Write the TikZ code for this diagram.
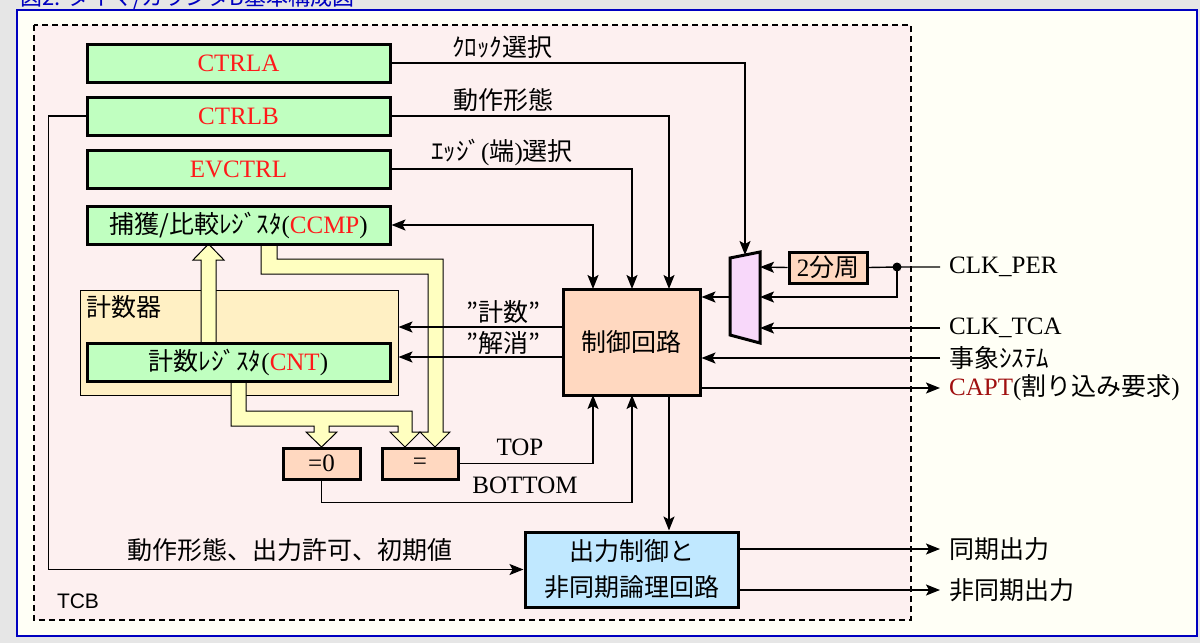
\documentclass[tikz,border=0pt]{standalone}
\usepackage{fontspec}
\setmainfont{Liberation Serif}
\newfontfamily\jp{Noto Sans CJK JP}
\newfontfamily\hv{Liberation Sans}
\usetikzlibrary{arrows.meta,calc}
\definecolor{bggray}{HTML}{E6E6E6}
\definecolor{panelfill}{HTML}{FFFFF6}
\definecolor{panelblue}{HTML}{0000C0}
\definecolor{tcbpink}{HTML}{FDF0F0}
\definecolor{regfill}{HTML}{C0FFC0}
\definecolor{cntfill}{HTML}{FFF0C4}
\definecolor{fatfill}{HTML}{FFFFC0}
\definecolor{peach}{HTML}{FFD8C0}
\definecolor{muxfill}{HTML}{F8D8FA}
\definecolor{outfill}{HTML}{C0E8FF}
\definecolor{regred}{HTML}{FF1A1A}
\definecolor{captred}{HTML}{A01010}
\begin{document}
\begin{tikzpicture}[x=1pt,y=-1pt,
  font=\fontsize{25}{28}\selectfont,
  box/.style={draw=black,line width=3pt,inner sep=0pt,align=center},
  greenbox/.style={box,fill=regfill,minimum width=303,minimum height=38},
  peachbox/.style={box,fill=peach},
  ln/.style={line width=1.4pt},
  arr/.style={ln,-{Stealth[length=14pt,width=11pt,inset=3pt]}},
  darr/.style={ln,{Stealth[length=14pt,width=11pt,inset=3pt]}-{Stealth[length=14pt,width=11pt,inset=3pt]}},
  fat/.style={draw=black,line width=1pt,fill=fatfill,line join=miter},
  lbl/.style={inner sep=0pt},
  rlbl/.style={anchor=west,inner xsep=9pt,inner ysep=0pt},
]
\useasboundingbox (0,0) rectangle (1200,643);
% backgrounds
\fill[bggray] (0,0) rectangle (1200,643);
\draw[panelblue,line width=2pt,fill=panelfill] (17,10) rectangle (1197,636);
\node[anchor=base west,text=panelblue,lbl,font=\jp\fontsize{22}{24}\selectfont] (title) at (20,5) {図2. タイマ/カウンタB基本構成図};
\draw[line width=1.3pt,fill=tcbpink,dash pattern=on 6pt off 4pt] (34,25) rectangle (911,620);
\node[lbl,font=\hv\fontsize{21}{24}\selectfont] (tcb) at (78,601) {TCB};

% counter unit
\node[draw=black,line width=1pt,fill=cntfill,minimum width=318,minimum height=105,inner sep=0pt] (counter) at (239,342.5) {};
\node[lbl,anchor=west] (cntlbl) at (86,307) {{\jp 計数器}};

% fat arrows
\draw[fat] (201,343) -- (201,260) -- (193,260) -- (208.5,244) -- (224,260) -- (216,260) -- (216,343);
\draw[fat] (261,244) -- (261,274) -- (428,274) -- (428,432) -- (420,432) -- (435,447) -- (450,432) -- (443,432) -- (443,259) -- (277,259) -- (277,244);
\draw[fat] (231,381) -- (231,426) -- (314,426) -- (314,432) -- (306,432) -- (321.5,447) -- (337,432) -- (329,432) -- (329,426) -- (398,426) -- (398,432) -- (390,432) -- (405,447) -- (420,432) -- (412,432) -- (412,411) -- (246,411) -- (246,381);

% registers
\node[greenbox] (CTRLA) at (238.5,63) {\textcolor{regred}{CTRLA}};
\node[greenbox] (CTRLB) at (238.5,116) {\textcolor{regred}{CTRLB}};
\node[greenbox] (EVCTRL) at (238.5,169) {\textcolor{regred}{EVCTRL}};
\node[greenbox] (CCMP) at (238.5,225) {{\jp 捕獲/比較ﾚｼﾞｽﾀ}(\textcolor{regred}{CCMP})};
\node[greenbox] (CNT) at (238.5,362) {{\jp 計数ﾚｼﾞｽﾀ}(\textcolor{regred}{CNT})};

% comparators
\node[peachbox,minimum width=77,minimum height=31] (eqz) at (321.5,463.5) {=0};
\node[peachbox,minimum width=76,minimum height=31] (eq) at (420,463.5) {=};

% control
\node[peachbox,minimum width=137,minimum height=106] (ctrl) at (631.5,342) {{\jp 制御回路}};
% output control
\node[box,fill=outfill,minimum width=213,minimum height=75,font=\jp\fontsize{25}{36}\selectfont] (out) at (631.5,569.5) {出力制御と\\非同期論理回路};
% divider
\node[peachbox,minimum width=78,minimum height=31] (div) at (828,267.5) {2{\jp 分周}};
% mux
\draw[line width=3pt,fill=muxfill,line join=miter] (730,258) -- (760,252) -- (760,343) -- (730,335) -- cycle;
\coordinate (muxtop) at (745,255);
\coordinate (muxin1) at (760,267);
\coordinate (muxin2) at (760,297);
\coordinate (muxin3) at (760,328);
\coordinate (muxout) at (730,297);

% control ports
\coordinate (ctrlN1) at (593,289);
\coordinate (ctrlN2) at (632,289);
\coordinate (ctrlN3) at (669,289);
\coordinate (ctrlS1) at (593,395);
\coordinate (ctrlS2) at (632,395);
\coordinate (ctrlS3) at (669,395);
\coordinate (ctrlW1) at (563,327);
\coordinate (ctrlW2) at (563,357);
\coordinate (dot) at (897,267);

% right labels
\node[rlbl] (lPER) at (940,267) {CLK\_PER};
\node[rlbl] (lTCA) at (940,328) {CLK\_TCA};
\node[rlbl] (lEV) at (940,358) {{\jp 事象ｼｽﾃﾑ}};
\node[rlbl] (lCAPT) at (940,388) {\textcolor{captred}{CAPT}({\jp 割り込み要求})};
\node[rlbl] (lSync) at (940,549) {{\jp 同期出力}};
\node[rlbl] (lAsync) at (940,590) {{\jp 非同期出力}};

% connector labels
\node[lbl] (tClk) at (502,47) {{\jp ｸﾛｯｸ選択}};
\node[lbl] (tMode) at (503,100) {{\jp 動作形態}};
\node[lbl] (tEdge) at (502,152) {{\jp ｴｯｼﾞ}({\jp 端}){\jp 選択}};
\node[lbl] (tCnt) at (503,312) {{\jp ”計数”}};
\node[lbl] (tClr) at (503,343) {{\jp ”解消”}};
\node[lbl] (tTop) at (520,447) {TOP};
\node[lbl] (tBot) at (525,485) {BOTTOM};
\node[lbl] (tOut) at (290,550) {{\jp 動作形態、出力許可、初期値}};

% connectors
\draw[arr] (CTRLA.east) -| (muxtop);
\draw[arr] (CTRLB.east) -| (ctrlN3);
\draw[arr] (EVCTRL.east) -| (ctrlN2);
\draw[darr] (CCMP.east) -| (ctrlN1);
\draw[arr] (CTRLB.west) -- ++(-37,0) |- (out.west);
\draw[arr] (ctrlW1) -- (counter.east |- ctrlW1);
\draw[arr] (ctrlW2) -- (counter.east |- ctrlW2);
\draw[arr] (eq.east) -| (ctrlS1);
\draw[arr] (eqz.south) -- ++(0,22) -| (ctrlS2);
\draw[arr] (ctrlS3) -- (out.north -| ctrlS3);
\draw[ln] (lPER.west) -- (dot) -- (div.east);
\fill (dot) circle (4.5);
\draw[arr] (div.west) -- (muxin1);
\draw[arr] (dot) |- (muxin2);
\draw[arr] (lTCA.west) -- (muxin3);
\draw[arr] (muxout) -- (ctrl.east |- muxout);
\draw[arr] (lEV.west) -- (ctrl.east |- lEV.west);
\draw[arr] (ctrl.east |- lCAPT.west) -- (lCAPT.west);
\draw[arr] (out.east |- lSync.west) -- (lSync.west);
\draw[arr] (out.east |- lAsync.west) -- (lAsync.west);
\end{tikzpicture}
\end{document}
